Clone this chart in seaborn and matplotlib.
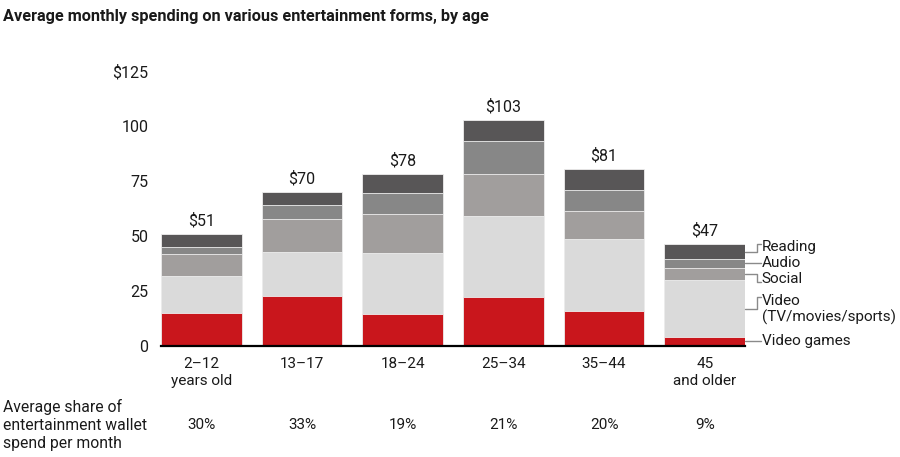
import matplotlib
matplotlib.use("Agg")
import matplotlib.pyplot as plt
import matplotlib.transforms as mtransforms
import numpy as np
import pandas as pd
import seaborn as sns

# data (US$ per month)
ages = ["2–12\nyears old", "13–17", "18–24", "25–34", "35–44", "45\nand older"]
video_games = [15.0, 22.7, 14.5, 22.1, 15.9, 3.9]
video = [17.0, 19.9, 27.6, 37.0, 32.6, 26.1]
social = [9.6, 15.0, 17.9, 19.1, 12.9, 5.3]
audio = [3.5, 6.5, 9.5, 15.1, 9.5, 4.4]
reading = [5.9, 5.8, 8.5, 9.4, 9.4, 6.5]
total_labels = ["$51", "$70", "$78", "$103", "$81", "$47"]
wallet_share = ["30%", "33%", "19%", "21%", "20%", "9%"]

categories = ["Video games", "Video", "Social", "Audio", "Reading"]
colors = ["#c9161c", "#dadada", "#a19e9d", "#878787", "#585657"]

sns.set_theme(style="white")
plt.rcParams["font.family"] = ["Roboto", "DejaVu Sans"]

df = pd.DataFrame({
    "age": ages,
    "Video games": video_games,
    "Video": video,
    "Social": social,
    "Audio": audio,
    "Reading": reading,
})
cum = df[categories].cumsum(axis=1)

fig = plt.figure(figsize=(9, 4.57), dpi=100)
ax = fig.add_axes([0.1789, 0.2429, 0.6489, 0.6017])

# stacked bars: draw cumulative totals from the top layer down
for cat, col in reversed(list(zip(categories, colors))):
    sns.barplot(x=df["age"], y=cum[cat], color=col, saturation=1,
                width=0.8, linewidth=0.6, edgecolor="#eeeeee", ax=ax)

ax.set_xlim(-0.4, 5.4)
ax.set_ylim(0, 125)
ax.set_xlabel("")
ax.set_ylabel("")
ax.set_yticks([0, 25, 50, 75, 100, 125])
ax.set_yticklabels(["0", "25", "50", "75", "100", "$125"])
ax.tick_params(axis="y", length=0, pad=9, labelsize=11.5, labelcolor="#1a1a1a")
ax.tick_params(axis="x", length=0, pad=8, labelsize=11, labelcolor="#1a1a1a")
for lbl in ax.get_xticklabels():
    lbl.set_linespacing(1.3)
sns.despine(ax=ax, left=True)
ax.spines["bottom"].set_color("black")
ax.spines["bottom"].set_linewidth(1.6)

# totals above bars
totals = cum["Reading"].values
for i, (t, lab) in enumerate(zip(totals, total_labels)):
    ax.text(i, t + 2.5, lab, ha="center", va="bottom", fontsize=11.5, color="#1a1a1a")

# labels for the last bar with connector lines
last = len(ages) - 1
edge = last + 0.4
bottoms = np.concatenate([[0], cum.iloc[last].values[:-1]])
mids = (bottoms + cum.iloc[last].values) / 2
label_text = ["Video games", "Video\n(TV/movies/sports)", "Social", "Audio", "Reading"]
label_y = [2.3, 16.6, 30.3, 37.7, 45.0]
elbow_end = [None, 22.4, 29.0, None, 46.4]
x_elbow, x_text = edge + 0.12, edge + 0.165
line_kw = dict(color="#8a8a8a", lw=1, clip_on=False)
for m, ly, ee, txt in zip(mids, label_y, elbow_end, label_text):
    if ee is None:
        ax.plot([edge, x_text - 0.01], [ly, ly], **line_kw)
    else:
        ax.plot([edge, x_elbow, x_elbow, x_text - 0.01], [m, m, ee, ee], **line_kw)
    ax.text(x_text, ly, txt, ha="left", va="center", fontsize=11,
            color="#1a1a1a", linespacing=1.2)

# title
fig.text(0.003, 0.963, "Average monthly spending on various entertainment forms, by age",
         fontsize=11.7, fontweight="bold", ha="left", va="center", color="#1a1a1a")

# wallet share row
row_y = 0.070
fig.text(0.003, row_y, "Average share of\nentertainment wallet\nspend per month",
         fontsize=11.3, ha="left", va="center", linespacing=1.28, color="#1a1a1a")
trans = mtransforms.blended_transform_factory(ax.transData, fig.transFigure)
for i, s in enumerate(wallet_share):
    ax.text(i, row_y, s, transform=trans, ha="center", va="center",
            fontsize=11, color="#1a1a1a")

fig.savefig("out.png", dpi=100, facecolor="white")
